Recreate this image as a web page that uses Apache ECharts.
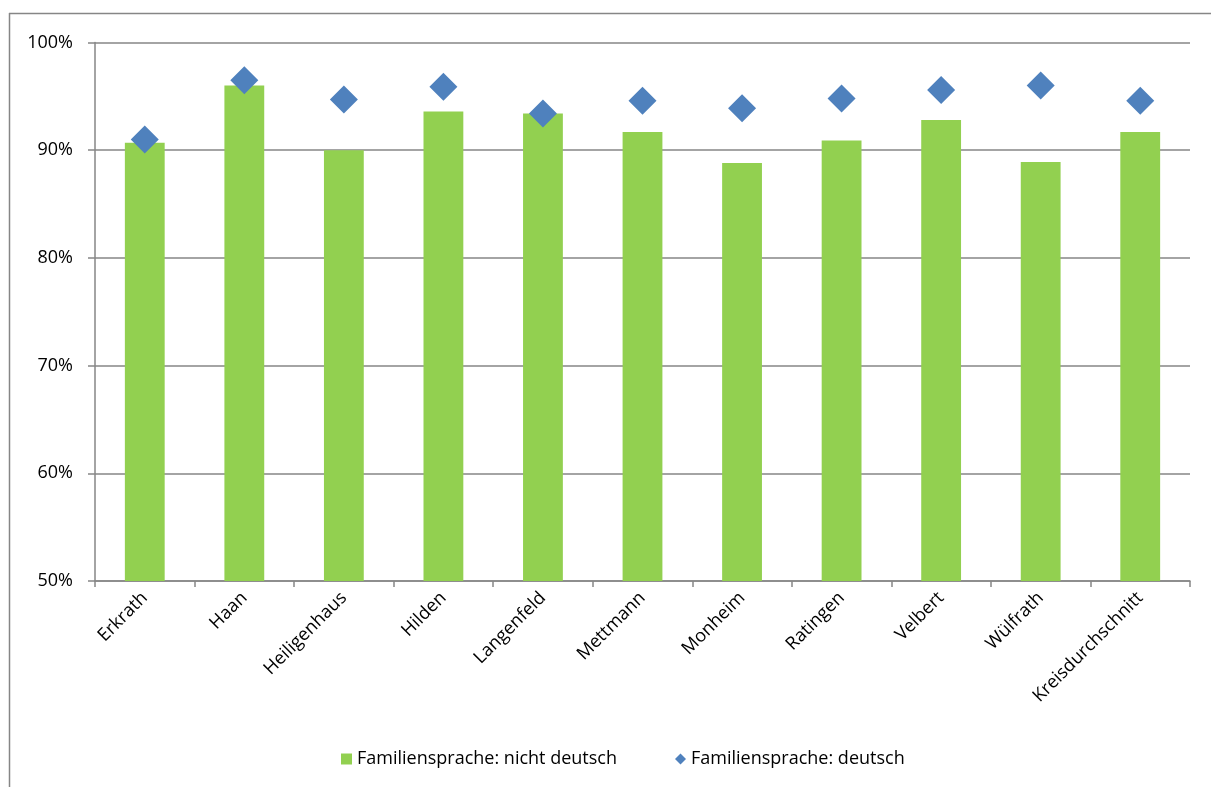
<!DOCTYPE html>
<html>
<head>
<meta charset="utf-8">
<script src="https://cdn.jsdelivr.net/npm/echarts@6/dist/echarts.min.js"></script>
<style>
html,body{margin:0;padding:0;background:#fff;}
#chart{width:1211px;height:787px;}
</style>
</head>
<body>
<div id="chart"></div>
<script>
const categories = ['Erkrath','Haan','Heiligenhaus','Hilden','Langenfeld','Mettmann','Monheim','Ratingen','Velbert','Wülfrath','Kreisdurchschnitt'];
const nichtDeutsch = [90.7, 96.0, 90.0, 93.6, 93.4, 91.7, 88.8, 90.9, 92.8, 88.9, 91.7];
const deutsch = [91.0, 96.5, 94.7, 95.9, 93.4, 94.6, 93.9, 94.8, 95.6, 96.0, 94.6];
const seriesNames = ['Familiensprache: nicht deutsch', 'Familiensprache: deutsch'];

const FONT = 'Open Sans';
const GRAY = '#868686';
const chart = echarts.init(document.getElementById('chart'), null, {renderer:'canvas'});
chart.setOption({
  animation: false,
  backgroundColor: '#fff',
  textStyle: {fontFamily: FONT},
  graphic: [
    {type:'line', shape:{x1:9, y1:13.5, x2:1211, y2:13.5}, style:{stroke:GRAY, lineWidth:1.5}},
    {type:'line', shape:{x1:9.5, y1:13, x2:9.5, y2:787}, style:{stroke:GRAY, lineWidth:1.5}}
  ],
  grid: {left: 95, right: 21, top: 42.5, bottom: 206, containLabel: false},
  legend: {
    top: 745,
    left: 336,
    itemWidth: 11, itemHeight: 11,
    itemGap: 58,
    textStyle: {fontSize: 18, color: '#000', fontFamily: FONT},
    data: [
      {name: seriesNames[0], icon: 'rect'},
      {name: seriesNames[1], icon: 'diamond'}
    ]
  },
  xAxis: {
    type: 'category',
    data: categories,
    boundaryGap: true,
    axisLine: {lineStyle: {color: GRAY, width: 1.5}},
    axisTick: {show: true, length: 6, alignWithLabel: false, lineStyle: {color: GRAY, width: 1.5}},
    axisLabel: {rotate: 45, fontSize: 18, color: '#000', margin: 14, interval: 0, fontFamily: FONT}
  },
  yAxis: {
    type: 'value',
    min: 50, max: 100, interval: 10,
    axisLine: {show: true, lineStyle: {color: GRAY, width: 1.5}},
    axisTick: {show: true, length: 7, lineStyle: {color: GRAY, width: 1.5}},
    axisLabel: {formatter: '{value}%', fontSize: 18, color: '#000', margin: 22, fontFamily: FONT},
    splitLine: {show: true, lineStyle: {color: GRAY, width: 1.5}}
  },
  series: [
    {
      name: seriesNames[0],
      type: 'bar',
      data: nichtDeutsch,
      barWidth: '40%',
      itemStyle: {color: '#92D050'},
      z: 2
    },
    {
      name: seriesNames[1],
      type: 'scatter',
      data: deutsch,
      symbol: 'diamond',
      symbolSize: 28,
      itemStyle: {color: '#4F81BD', opacity: 1},
      z: 3
    }
  ]
});
</script>
</body>
</html>
